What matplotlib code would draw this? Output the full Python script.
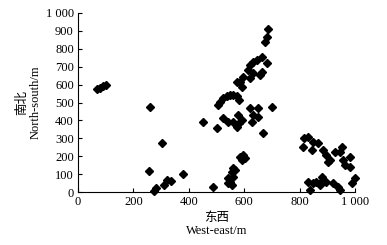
import numpy as np
import matplotlib.pyplot as plt

plt.rcParams['font.family'] = ['Liberation Serif', 'Noto Sans CJK SC']

# 点位坐标 (m)
west_east = [70, 80, 90, 100,
             260, 302, 257, 274, 282, 312, 320, 335, 378, 450, 487, 503, 522,
             507, 513, 525, 537, 549, 561, 573, 582,
             543, 561, 579, 582, 575, 591, 621, 651, 633, 651, 627, 667, 699,
             597, 591, 585, 603, 561, 555, 567, 543, 549, 555, 543, 561,
             687, 681, 675, 663, 681, 645, 633, 621, 615, 633, 657, 663, 621,
             597, 585, 573, 591,
             816, 831, 813, 844, 849, 867, 885, 897, 910, 904, 928, 952, 946,
             982, 958, 964, 982, 1000, 988,
             831, 838, 849, 859, 874, 885, 880, 897, 922, 940, 946]
north_south = [575, 580, 590, 598,
               475, 275, 117, 7, 20, 39, 67, 63, 100, 393, 30, 360, 415,
               486, 505, 523, 536, 542, 542, 536, 514,
               393, 393, 430, 384, 365, 402, 467, 467, 430, 421, 393, 331, 473,
               207, 179, 197, 188, 132, 114, 123, 76, 58, 39, 48, 86,
               909, 868, 840, 756, 719, 737, 729, 710, 682, 663, 654, 672, 635,
               645, 617, 617, 589,
               300, 309, 253, 235, 281, 272, 235, 207, 179, 170, 225, 253, 225,
               197, 179, 151, 142, 76, 48,
               58, 11, 48, 58, 39, 67, 86, 58, 48, 30, 11]

x_ticks = [0, 200, 400, 600, 800, 1000]
x_labels = ['0', '200', '400', '600', '800', '1 000']
y_ticks = list(range(0, 1001, 100))
y_labels = [str(v) for v in y_ticks[:-1]] + ['1 000']

fig = plt.figure(figsize=(3.87, 2.45), dpi=100)
ax = fig.add_axes([0.2016, 0.216, 0.7154, 0.731])

ax.plot(west_east, north_south, linestyle='none', marker='D', markersize=3.6,
        color='black', clip_on=False)

ax.set_xlim(0, 1000)
ax.set_ylim(0, 1000)
ax.set_xticks(x_ticks)
ax.set_xticklabels(x_labels)
ax.set_yticks(y_ticks)
ax.set_yticklabels(y_labels)
ax.tick_params(direction='in', length=3, width=0.8, labelsize=9, pad=3)

ax.spines['top'].set_visible(False)
ax.spines['right'].set_visible(False)

ax.set_xlabel('东西\nWest-east/m', fontsize=9, linespacing=1.1, labelpad=3)
ax.set_ylabel('南北\nNorth-south/m', fontsize=9, linespacing=1.1, labelpad=3)

fig.savefig('out.png', dpi=100)
